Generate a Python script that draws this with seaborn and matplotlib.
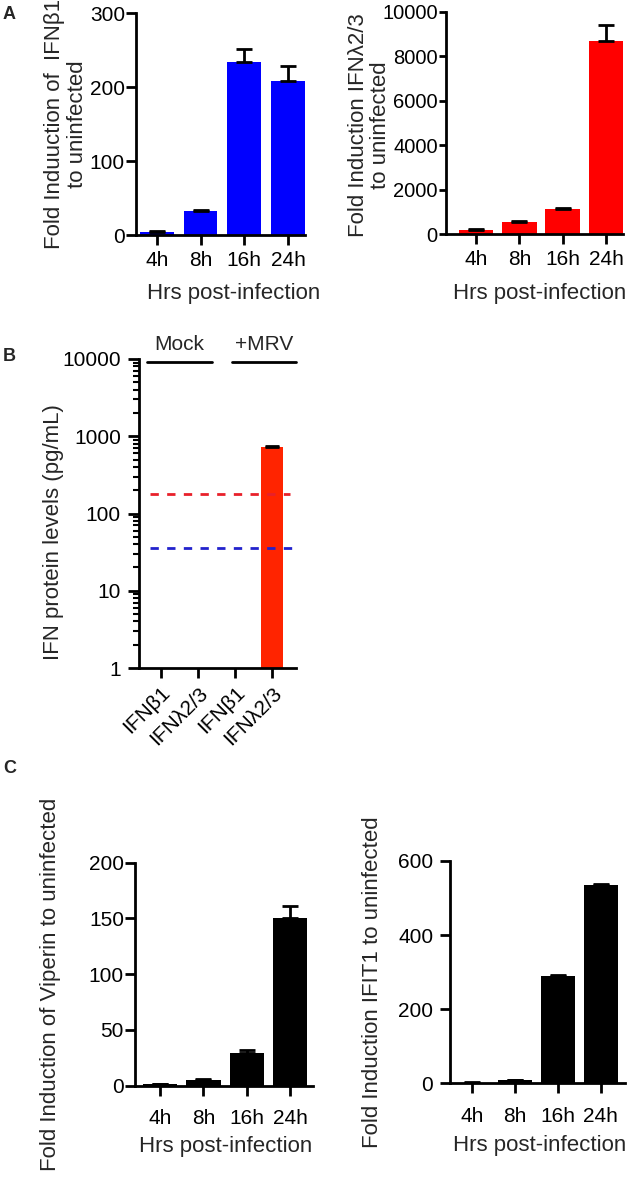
import numpy as np
import pandas as pd
import seaborn as sns
import matplotlib.pyplot as plt

# values
hours = ['4h', '8h', '16h', '24h']

ifnb1_mean = [4.9, 33, 234, 208]
ifnb1_err = [0.5, 1.5, 18, 21]

ifnl23_mean = [200, 560, 1130, 8680]
ifnl23_err = [20, 40, 50, 720]

elisa_labels = ['IFN\u03b21', 'IFN\u03bb2/3', 'IFN\u03b21 ', 'IFN\u03bb2/3 ']
elisa_mean = [0, 0, 0, 720]
elisa_err = [0, 0, 0, 20]
lod_lambda = 177
lod_beta = 35.5

viperin_mean = [1.5, 5.4, 29.5, 150.5]
viperin_err = [0.3, 0.4, 2.5, 10.5]

ifit1_mean = [2, 9, 289, 535]
ifit1_err = [0.3, 0.5, 2.5, 4]

sns.set_style('ticks')
plt.rcParams['font.family'] = ['Liberation Sans', 'DejaVu Sans']

W, H = 641, 1178
fig = plt.figure(figsize=(W / 100, H / 100), dpi=100)


def px_axes(x0, y0, x1, y1):
    return fig.add_axes([x0 / W, 1 - y1 / H, (x1 - x0) / W, (y1 - y0) / H])


def style(ax, ytick_size=15, ypad=1, ylen=7):
    for s in ['top', 'right']:
        ax.spines[s].set_visible(False)
    for s in ['left', 'bottom']:
        ax.spines[s].set_linewidth(2)
        ax.spines[s].set_color('black')
    ax.tick_params(axis='y', which='major', length=ylen, width=2, pad=ypad,
                   labelsize=ytick_size, colors='black')
    ax.tick_params(axis='x', which='major', length=7, width=2, labelsize=15,
                   colors='black')


def time_panel(ax, means, errs, color, width, ylim, yticks, ylabel,
               ylab_xy, xlab_xy, xlim, xpad=4, ytick_size=15, ypad=1, ylen=7):
    df = pd.DataFrame({'time': hours, 'fold': means})
    sns.barplot(data=df, x='time', y='fold', order=hours, color=color,
                saturation=1, width=width, errorbar=None, ax=ax,
                edgecolor=color, linewidth=0)
    ax.errorbar(np.arange(len(hours)), means,
                yerr=[np.zeros(len(errs)), errs], fmt='none',
                ecolor='black', elinewidth=2, capsize=6, capthick=2)
    ax.set_xlim(*xlim)
    ax.set_ylim(*ylim)
    ax.set_yticks(yticks)
    style(ax, ytick_size, ypad, ylen)
    ax.tick_params(axis='x', pad=xpad)
    ax.set_ylabel(ylabel, fontsize=16, linespacing=1.1)
    ax.yaxis.set_label_coords(*ylab_xy)
    ax.set_xlabel('Hrs post-infection', fontsize=16)
    ax.xaxis.set_label_coords(*xlab_xy)


# Panel A
axA1 = px_axes(136, 13.3, 305, 235.3)
time_panel(axA1, ifnb1_mean, ifnb1_err, '#0000FF', 0.77, (0, 300),
           [0, 100, 200, 300], 'Fold Induuction of  IFN\u03b21\nto uninfected',
           (-0.285, 0.5), (0.58, -0.215), (-0.48, 3.39))

axA2 = px_axes(446, 11.7, 623, 234.3)
time_panel(axA2, ifnl23_mean, ifnl23_err, '#FF0000', 0.8, (0, 10000),
           [0, 2000, 4000, 6000, 8000, 10000],
           'Fold Induction IFN\u03bb2/3\nto uninfected',
           (-0.31, 0.49), (0.53, -0.219), (-0.69, 3.39), ylen=5,
           ytick_size=14.5)

# Panel B
axB = px_axes(139, 359, 296, 668)
dfB = pd.DataFrame({'ifn': elisa_labels, 'level': elisa_mean})
sns.barplot(data=dfB, x='ifn', y='level', order=elisa_labels, color='#FF2400',
            saturation=1, width=0.6, errorbar=None, ax=axB, linewidth=0)
axB.set_yscale('log')
axB.errorbar(np.arange(len(elisa_labels))[3:], elisa_mean[3:],
             yerr=[[0], elisa_err[3:]], fmt='none', ecolor='black',
             elinewidth=2, capsize=5, capthick=2)
axB.axhline(lod_lambda, xmin=0.07, xmax=0.96, color='#E8202A', lw=2,
            dashes=(3, 3))
axB.axhline(lod_beta, xmin=0.07, xmax=0.98, color='#2222CC', lw=2,
            dashes=(3, 3))
axB.set_xlim(-0.59, 3.65)
axB.set_ylim(1, 10000)
axB.set_yticks([1, 10, 100, 1000, 10000])
axB.set_yticklabels(['1', '10', '100', '1000', '10000'])
style(axB, 15, 5, 8)
axB.tick_params(axis='y', which='minor', length=4, width=1.5, colors='black')
axB.set_xticks(range(4))
axB.set_xticklabels(['IFN\u03b21', 'IFN\u03bb2/3', 'IFN\u03b21', 'IFN\u03bb2/3'],
                    rotation=45, ha='right', rotation_mode='anchor')
axB.tick_params(axis='x', pad=4)
axB.set_ylabel('IFN protein levels (pg/mL)', fontsize=16)
axB.yaxis.set_label_coords(-0.478, 0.44)
axB.set_xlabel('')
tr = axB.get_xaxis_transform()
axB.plot([-0.38, 1.38], [0.99, 0.99], color='black', lw=2, transform=tr,
         clip_on=False)
axB.plot([1.92, 3.65], [0.99, 0.99], color='black', lw=2, transform=tr,
         clip_on=False)
axB.text(0.5, 1.015, 'Mock', transform=tr, ha='center', va='bottom',
         fontsize=15)
axB.text(2.78, 1.015, '+MRV', transform=tr, ha='center', va='bottom',
         fontsize=15)

# Panel C
axC1 = px_axes(135, 862.7, 313, 1085.7)
time_panel(axC1, viperin_mean, viperin_err, 'black', 0.79, (0, 200),
           [0, 50, 100, 150, 200], 'Fold Induction of Viperin to uninfected',
           (-0.416, 0.456), (0.51, -0.226), (-0.58, 3.53), xpad=10)

axC2 = px_axes(450, 861, 625, 1083.3)
time_panel(axC2, ifit1_mean, ifit1_err, 'black', 0.8, (0, 600),
           [0, 200, 400, 600], 'Fold Induction IFIT1 to uninfected',
           (-0.383, 0.456), (0.51, -0.233), (-0.51, 3.56), xpad=10, ypad=5)

# panel letters
for letter, ytop in [('A', 6), ('B', 348), ('C', 760)]:
    fig.text(3 / W, 1 - ytop / H, letter, fontsize=13, fontweight='bold',
             ha='left', va='top')

fig.savefig('out.png', dpi=100)
